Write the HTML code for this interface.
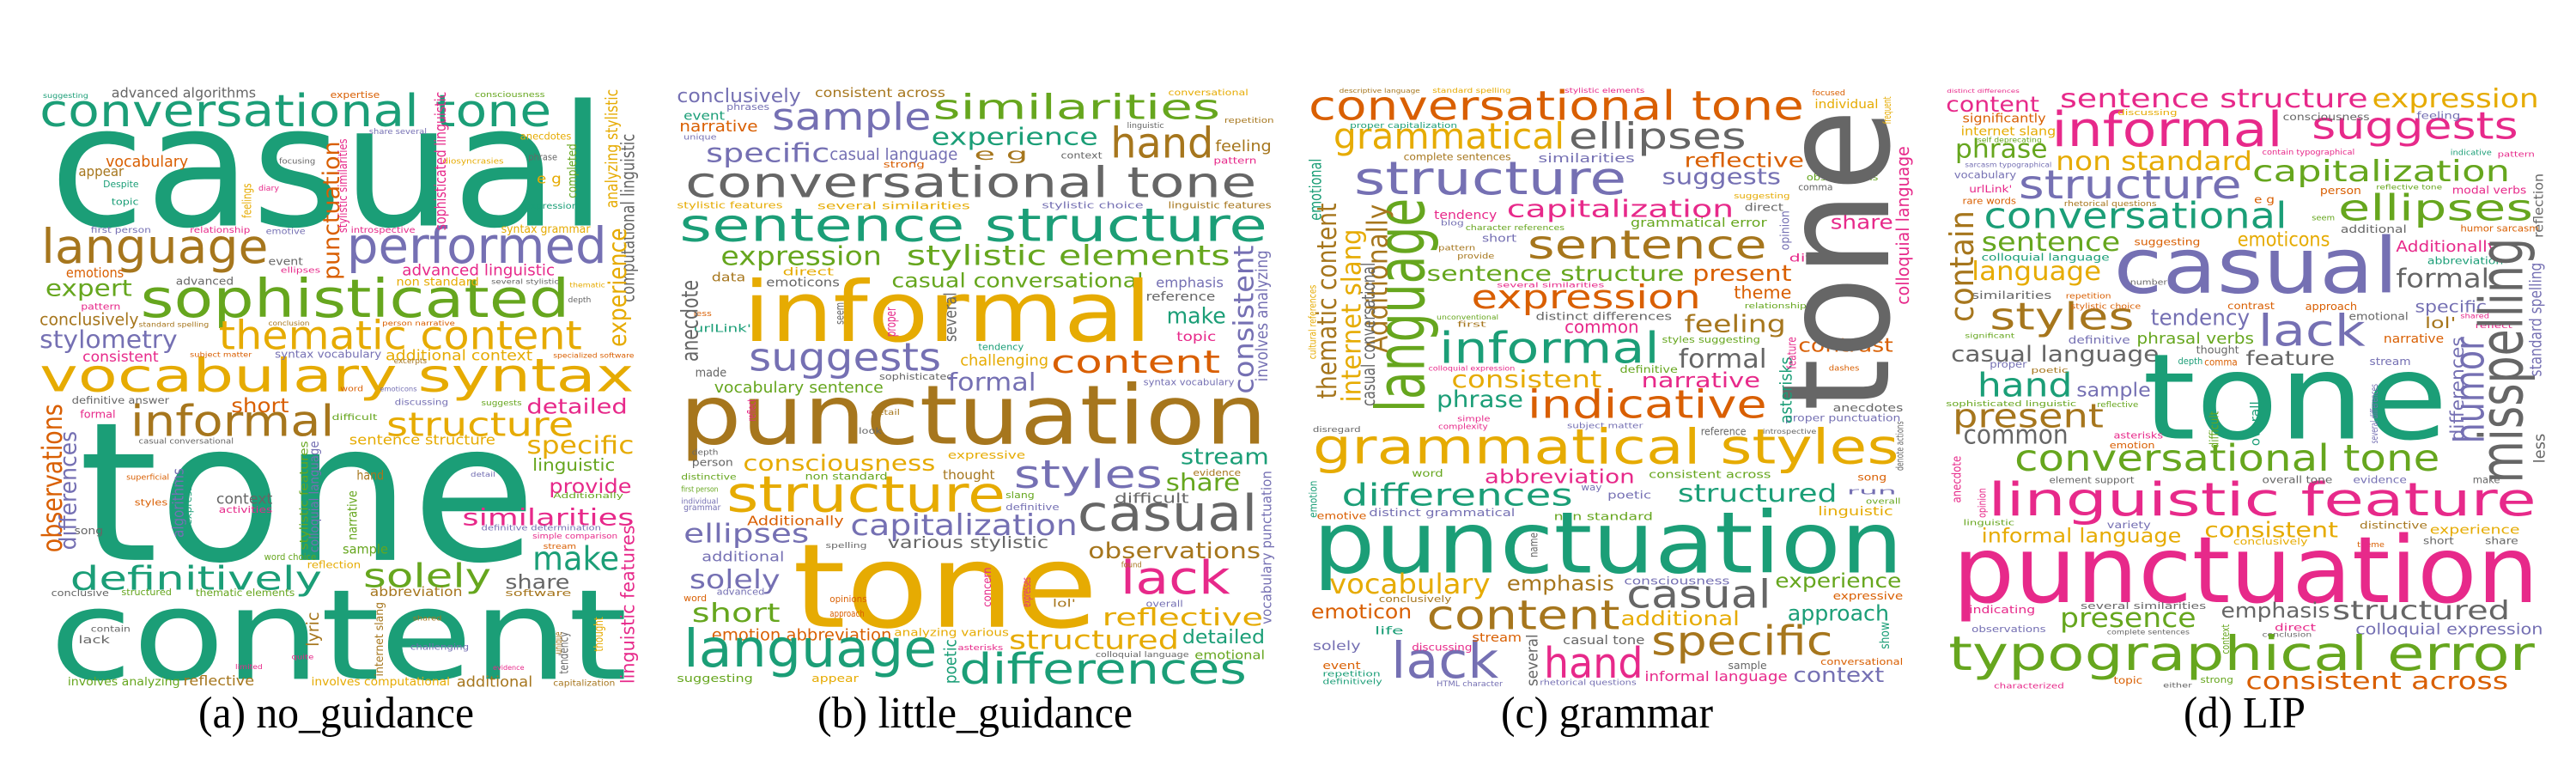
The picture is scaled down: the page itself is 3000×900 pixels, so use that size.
<!DOCTYPE html>
<html><head><meta charset="utf-8"><style>
html,body{margin:0;padding:0;background:#fff;width:3000px;height:900px;overflow:hidden}
svg{display:block}
text{font-family:"DejaVu Sans","Liberation Sans",sans-serif}
.cap{font-family:"Liberation Serif",serif;fill:#000}
.T{fill:#1b9e77}.O{fill:#d95f02}.P{fill:#7570b3}.K{fill:#e7298a}.G{fill:#66a61e}.Y{fill:#e6ab02}.B{fill:#a6761d}.R{fill:#666666}
</style></head><body>
<svg width="3000" height="900" viewBox="0 0 3000 900" xmlns="http://www.w3.org/2000/svg">
<rect width="3000" height="900" fill="#fff"/>
<g transform="scale(0.9615,0.5769)">
<!-- panel a -->
<text class="T" x="60" y="455" font-size="340" textLength="675" lengthAdjust="spacingAndGlyphs">casual</text>
<text class="T" x="48" y="255" font-size="89" textLength="620" lengthAdjust="spacingAndGlyphs">conversational tone</text>
<text class="B" x="50" y="530" font-size="96" textLength="275" lengthAdjust="spacingAndGlyphs">language</text>
<text class="P" x="420" y="530" font-size="100" textLength="315" lengthAdjust="spacingAndGlyphs">performed</text>
<text class="G" x="170" y="640" font-size="107" textLength="520" lengthAdjust="spacingAndGlyphs">sophisticated</text>
<text class="Y" x="265" y="705" font-size="80" textLength="440" lengthAdjust="spacingAndGlyphs">thematic content</text>
<text class="Y" x="48" y="790" font-size="93" textLength="720" lengthAdjust="spacingAndGlyphs">vocabulary syntax</text>
<text class="B" x="158" y="880" font-size="87" textLength="247" lengthAdjust="spacingAndGlyphs">informal</text>
<text class="Y" x="468" y="880" font-size="67" textLength="227" lengthAdjust="spacingAndGlyphs">structure</text>
<text class="T" x="95" y="1130" font-size="390" textLength="555" lengthAdjust="spacingAndGlyphs">tone</text>
<text class="T" x="85" y="1190" font-size="67" textLength="305" lengthAdjust="spacingAndGlyphs">definitively</text>
<text class="G" x="440" y="1185" font-size="67" textLength="155" lengthAdjust="spacingAndGlyphs">solely</text>
<text class="T" x="60" y="1370" font-size="253" textLength="700" lengthAdjust="spacingAndGlyphs">content</text>
<text class="T" x="645" y="1150" font-size="67" textLength="105" lengthAdjust="spacingAndGlyphs">make</text>
<text class="R" x="612" y="1188" font-size="40" textLength="78" lengthAdjust="spacingAndGlyphs">share</text>
<text class="K" x="560" y="1060" font-size="47" textLength="208" lengthAdjust="spacingAndGlyphs">similarities</text>
<text class="K" x="665" y="995" font-size="40" textLength="100" lengthAdjust="spacingAndGlyphs">provide</text>
<text class="Y" x="638" y="915" font-size="50" textLength="130" lengthAdjust="spacingAndGlyphs">specific</text>
<text class="K" x="638" y="835" font-size="42" textLength="122" lengthAdjust="spacingAndGlyphs">detailed</text>
<text class="G" x="645" y="950" font-size="34" textLength="100" lengthAdjust="spacingAndGlyphs">linguistic</text>
<text class="O" x="280" y="832" font-size="40" textLength="70" lengthAdjust="spacingAndGlyphs">short</text>
<text class="G" x="55" y="597" font-size="46" textLength="105" lengthAdjust="spacingAndGlyphs">expert</text>
<text class="P" x="48" y="702" font-size="50" textLength="167" lengthAdjust="spacingAndGlyphs">stylometry</text>
<text class="B" x="48" y="656" font-size="34" textLength="120" lengthAdjust="spacingAndGlyphs">conclusively</text>
<text class="K" x="100" y="730" font-size="29" textLength="92" lengthAdjust="spacingAndGlyphs">consistent</text>
<text class="O" x="80" y="560" font-size="28" textLength="70" lengthAdjust="spacingAndGlyphs">emotions</text>
<text class="O" x="128" y="336" font-size="30" textLength="100" lengthAdjust="spacingAndGlyphs">vocabulary</text>
<text class="B" x="95" y="355" font-size="28" textLength="55" lengthAdjust="spacingAndGlyphs">appear</text>
<text class="R" x="135" y="197" font-size="27" textLength="175" lengthAdjust="spacingAndGlyphs">advanced algorithms</text>
<text class="K" x="487" y="556" font-size="30" textLength="185" lengthAdjust="spacingAndGlyphs">advanced linguistic</text>
<text class="Y" x="480" y="576" font-size="23" textLength="100" lengthAdjust="spacingAndGlyphs">non standard</text>
<text class="Y" x="607" y="470" font-size="23" textLength="108" lengthAdjust="spacingAndGlyphs">syntax grammar</text>
<text class="Y" x="467" y="727" font-size="29" textLength="178" lengthAdjust="spacingAndGlyphs">additional context</text>
<text class="P" x="333" y="722" font-size="22" textLength="129" lengthAdjust="spacingAndGlyphs">syntax vocabulary</text>
<text class="Y" x="423" y="897" font-size="28" textLength="177" lengthAdjust="spacingAndGlyphs">sentence structure</text>
<text class="B" x="432" y="968" font-size="26" textLength="33" lengthAdjust="spacingAndGlyphs">hand</text>
<text class="R" x="262" y="1017" font-size="29" textLength="68" lengthAdjust="spacingAndGlyphs">context</text>
<text class="K" x="265" y="1035" font-size="18" textLength="65" lengthAdjust="spacingAndGlyphs">activities</text>
<text class="G" x="415" y="1117" font-size="26" textLength="55" lengthAdjust="spacingAndGlyphs">sample</text>
<text class="B" x="448" y="1203" font-size="26" textLength="112" lengthAdjust="spacingAndGlyphs">abbreviation</text>
<text class="G" x="147" y="1201" font-size="18" textLength="61" lengthAdjust="spacingAndGlyphs">structured</text>
<text class="G" x="237" y="1203" font-size="20" textLength="120" lengthAdjust="spacingAndGlyphs">thematic elements</text>
<text class="R" x="62" y="1203" font-size="19" textLength="70" lengthAdjust="spacingAndGlyphs">conclusive</text>
<text class="G" x="320" y="1130" font-size="18" textLength="63" lengthAdjust="spacingAndGlyphs">word choice</text>
<text class="Y" x="372" y="1147" font-size="20" textLength="65" lengthAdjust="spacingAndGlyphs">reflection</text>
<text class="B" x="612" y="1203" font-size="18" textLength="80" lengthAdjust="spacingAndGlyphs">software</text>
<text class="G" x="82" y="1383" font-size="23" textLength="136" lengthAdjust="spacingAndGlyphs">involves analyzing</text>
<text class="B" x="222" y="1383" font-size="27" textLength="86" lengthAdjust="spacingAndGlyphs">reflective</text>
<text class="Y" x="377" y="1383" font-size="23" textLength="168" lengthAdjust="spacingAndGlyphs">involves computational</text>
<text class="B" x="553" y="1386" font-size="29" textLength="92" lengthAdjust="spacingAndGlyphs">additional</text>
<text class="B" x="670" y="1384" font-size="17" textLength="75" lengthAdjust="spacingAndGlyphs">capitalization</text>
<text class="R" x="95" y="1298" font-size="22" textLength="38" lengthAdjust="spacingAndGlyphs">lack</text>
<text class="R" x="110" y="1275" font-size="17" textLength="48" lengthAdjust="spacingAndGlyphs">contain</text>
<text class="P" x="497" y="1311" font-size="17" textLength="71" lengthAdjust="spacingAndGlyphs">challenging</text>
<text class="K" x="353" y="1330" font-size="14" textLength="27" lengthAdjust="spacingAndGlyphs">quite</text>
<text class="K" x="97" y="843" font-size="22" textLength="43" lengthAdjust="spacingAndGlyphs">formal</text>
<text class="R" x="87" y="815" font-size="20" textLength="118" lengthAdjust="spacingAndGlyphs">definitive answer</text>
<text class="R" x="168" y="895" font-size="16" textLength="115" lengthAdjust="spacingAndGlyphs">casual conversational</text>
<text class="P" x="322" y="472" font-size="17" textLength="48" lengthAdjust="spacingAndGlyphs">emotive</text>
<text class="P" x="110" y="470" font-size="17" textLength="73" lengthAdjust="spacingAndGlyphs">first person</text>
<text class="K" x="230" y="470" font-size="17" textLength="73" lengthAdjust="spacingAndGlyphs">relationship</text>
<text class="K" x="425" y="470" font-size="17" textLength="78" lengthAdjust="spacingAndGlyphs">introspective</text>
<text class="Y" x="630" y="282" font-size="20" textLength="62" lengthAdjust="spacingAndGlyphs">anecdotes</text>
<text class="O" x="400" y="198" font-size="18" textLength="60" lengthAdjust="spacingAndGlyphs">expertise</text>
<text class="G" x="575" y="196" font-size="16" textLength="85" lengthAdjust="spacingAndGlyphs">consciousness</text>
<text class="T" x="52" y="198" font-size="14" textLength="55" lengthAdjust="spacingAndGlyphs">suggesting</text>
<text class="Y" x="650" y="370" font-size="28" textLength="30" lengthAdjust="spacingAndGlyphs">e g</text>
<text class="R" x="640" y="323" font-size="18" textLength="35" lengthAdjust="spacingAndGlyphs">phrase</text>
<text class="T" x="635" y="421" font-size="17" textLength="65" lengthAdjust="spacingAndGlyphs">expression</text>
<text class="Y" x="533" y="330" font-size="16" textLength="77" lengthAdjust="spacingAndGlyphs">idiosyncrasies</text>
<text class="P" x="447" y="270" font-size="15" textLength="70" lengthAdjust="spacingAndGlyphs">share several</text>
<text class="R" x="338" y="330" font-size="16" textLength="44" lengthAdjust="spacingAndGlyphs">focusing</text>
<text class="T" x="135" y="413" font-size="19" textLength="33" lengthAdjust="spacingAndGlyphs">topic</text>
<text class="T" x="125" y="378" font-size="18" textLength="43" lengthAdjust="spacingAndGlyphs">Despite</text>
<text class="K" x="313" y="385" font-size="15" textLength="25" lengthAdjust="spacingAndGlyphs">diary</text>
<text class="R" x="325" y="535" font-size="22" textLength="42" lengthAdjust="spacingAndGlyphs">event</text>
<text class="K" x="340" y="550" font-size="16" textLength="48" lengthAdjust="spacingAndGlyphs">ellipses</text>
<text class="R" x="213" y="575" font-size="22" textLength="70" lengthAdjust="spacingAndGlyphs">advanced</text>
<text class="K" x="98" y="625" font-size="18" textLength="48" lengthAdjust="spacingAndGlyphs">pattern</text>
<text class="B" x="168" y="660" font-size="14" textLength="85" lengthAdjust="spacingAndGlyphs">standard spelling</text>
<text class="P" x="478" y="817" font-size="17" textLength="65" lengthAdjust="spacingAndGlyphs">discussing</text>
<text class="G" x="583" y="818" font-size="15" textLength="49" lengthAdjust="spacingAndGlyphs">suggests</text>
<text class="G" x="402" y="848" font-size="17" textLength="55" lengthAdjust="spacingAndGlyphs">difficult</text>
<text class="O" x="163" y="1020" font-size="18" textLength="40" lengthAdjust="spacingAndGlyphs">styles</text>
<text class="R" x="90" y="1078" font-size="22" textLength="35" lengthAdjust="spacingAndGlyphs">song</text>
<text class="O" x="153" y="968" font-size="15" textLength="52" lengthAdjust="spacingAndGlyphs">superficial</text>
<text class="P" x="583" y="1070" font-size="15" textLength="145" lengthAdjust="spacingAndGlyphs">definitive determination</text>
<text class="K" x="645" y="1087" font-size="15" textLength="103" lengthAdjust="spacingAndGlyphs">simple comparison</text>
<text class="G" x="670" y="1005" font-size="16" textLength="85" lengthAdjust="spacingAndGlyphs">Additionally</text>
<text class="O" x="658" y="1108" font-size="15" textLength="40" lengthAdjust="spacingAndGlyphs">stream</text>
<text class="B" x="477" y="733" font-size="15" textLength="40" lengthAdjust="spacingAndGlyphs">excerpts</text>
<text class="O" x="412" y="790" font-size="15" textLength="28" lengthAdjust="spacingAndGlyphs">word</text>
<text class="P" x="460" y="790" font-size="14" textLength="45" lengthAdjust="spacingAndGlyphs">emoticons</text>
<text class="O" x="463" y="657" font-size="14" textLength="88" lengthAdjust="spacingAndGlyphs">person narrative</text>
<text class="B" x="325" y="657" font-size="13" textLength="50" lengthAdjust="spacingAndGlyphs">conclusion</text>
<text class="O" x="230" y="720" font-size="13" textLength="75" lengthAdjust="spacingAndGlyphs">subject matter</text>
<text class="O" x="670" y="722" font-size="13" textLength="98" lengthAdjust="spacingAndGlyphs">specialized software</text>
<text class="R" x="688" y="610" font-size="16" textLength="28" lengthAdjust="spacingAndGlyphs">depth</text>
<text class="Y" x="690" y="580" font-size="14" textLength="43" lengthAdjust="spacingAndGlyphs">thematic</text>
<text class="R" x="595" y="573" font-size="14" textLength="82" lengthAdjust="spacingAndGlyphs">several stylistic</text>
<text class="B" x="500" y="1252" font-size="14" textLength="35" lengthAdjust="spacingAndGlyphs">shared</text>
<text class="P" x="570" y="962" font-size="14" textLength="30" lengthAdjust="spacingAndGlyphs">detail</text>
<text class="K" x="597" y="1352" font-size="14" textLength="38" lengthAdjust="spacingAndGlyphs">evidence</text>
<text class="K" x="285" y="1350" font-size="13" textLength="33" lengthAdjust="spacingAndGlyphs">limited</text>
<text class="O" transform="translate(75,1115) rotate(-90)" font-size="33" textLength="300" lengthAdjust="spacingAndGlyphs">observations</text>
<text class="P" transform="translate(92,1110) rotate(-90)" font-size="28" textLength="240" lengthAdjust="spacingAndGlyphs">differences</text>
<text class="O" transform="translate(411,565) rotate(-90)" font-size="28" textLength="280" lengthAdjust="spacingAndGlyphs">punctuation</text>
<text class="K" transform="translate(420,470) rotate(-90)" font-size="15" textLength="190" lengthAdjust="spacingAndGlyphs">stylistic similarities</text>
<text class="K" transform="translate(540,465) rotate(-90)" font-size="18" textLength="280" lengthAdjust="spacingAndGlyphs">sophisticated linguistic</text>
<text class="Y" transform="translate(748,420) rotate(-90)" font-size="20" textLength="240" lengthAdjust="spacingAndGlyphs">analyzing stylistic</text>
<text class="R" transform="translate(768,610) rotate(-90)" font-size="22" textLength="340" lengthAdjust="spacingAndGlyphs">computational linguistic</text>
<text class="Y" transform="translate(758,700) rotate(-90)" font-size="30" textLength="240" lengthAdjust="spacingAndGlyphs">experience</text>
<text class="K" transform="translate(768,1380) rotate(-90)" font-size="22" textLength="320" lengthAdjust="spacingAndGlyphs">linguistic features</text>
<text class="B" transform="translate(386,1305) rotate(-90)" font-size="20" textLength="70" lengthAdjust="spacingAndGlyphs">lyric</text>
<text class="P" transform="translate(222,1085) rotate(-90)" font-size="18" textLength="140" lengthAdjust="spacingAndGlyphs">algorithms</text>
<text class="P" transform="translate(386,1115) rotate(-90)" font-size="16" textLength="225" lengthAdjust="spacingAndGlyphs">colloquial language</text>
<text class="G" transform="translate(373,1110) rotate(-90)" font-size="14" textLength="220" lengthAdjust="spacingAndGlyphs">stylistic features</text>
<text class="G" transform="translate(432,1090) rotate(-90)" font-size="16" textLength="100" lengthAdjust="spacingAndGlyphs">narrative</text>
<text class="Y" transform="translate(304,440) rotate(-90)" font-size="15" textLength="70" lengthAdjust="spacingAndGlyphs">feelings</text>
<text class="R" transform="translate(688,1360) rotate(-90)" font-size="15" textLength="85" lengthAdjust="spacingAndGlyphs">tendency</text>
<text class="Y" transform="translate(730,1315) rotate(-90)" font-size="15" textLength="70" lengthAdjust="spacingAndGlyphs">thought</text>
<text class="B" transform="translate(464,1365) rotate(-90)" font-size="14" textLength="150" lengthAdjust="spacingAndGlyphs">internet slang</text>
<text class="G" transform="translate(698,400) rotate(-90)" font-size="15" textLength="110" lengthAdjust="spacingAndGlyphs">completed</text>
<text class="T" transform="translate(232,1060) rotate(-90)" font-size="12" textLength="110" lengthAdjust="spacingAndGlyphs">expressive</text>
<text class="B" transform="translate(680,1320) rotate(-90)" font-size="12" textLength="45" lengthAdjust="spacingAndGlyphs">unique</text>
<!-- panel b -->
<text class="P" x="820" y="206" font-size="38" textLength="150" lengthAdjust="spacingAndGlyphs">conclusively</text>
<text class="B" x="987" y="196" font-size="26" textLength="158" lengthAdjust="spacingAndGlyphs">consistent across</text>
<text class="Y" x="1415" y="192" font-size="17" textLength="97" lengthAdjust="spacingAndGlyphs">conversational</text>
<text class="P" x="935" y="262" font-size="76" textLength="193" lengthAdjust="spacingAndGlyphs">sample</text>
<text class="G" x="1130" y="240" font-size="70" textLength="348" lengthAdjust="spacingAndGlyphs">similarities</text>
<text class="T" x="1128" y="292" font-size="48" textLength="202" lengthAdjust="spacingAndGlyphs">experience</text>
<text class="B" x="1345" y="318" font-size="85" textLength="125" lengthAdjust="spacingAndGlyphs">hand</text>
<text class="B" x="1472" y="305" font-size="31" textLength="68" lengthAdjust="spacingAndGlyphs">feeling</text>
<text class="K" x="1470" y="330" font-size="18" textLength="52" lengthAdjust="spacingAndGlyphs">pattern</text>
<text class="T" x="828" y="242" font-size="24" textLength="50" lengthAdjust="spacingAndGlyphs">event</text>
<text class="O" x="823" y="265" font-size="30" textLength="95" lengthAdjust="spacingAndGlyphs">narrative</text>
<text class="P" x="880" y="222" font-size="18" textLength="52" lengthAdjust="spacingAndGlyphs">phrases</text>
<text class="P" x="828" y="282" font-size="16" textLength="40" lengthAdjust="spacingAndGlyphs">unique</text>
<text class="P" x="855" y="327" font-size="52" textLength="150" lengthAdjust="spacingAndGlyphs">specific</text>
<text class="P" x="1005" y="322" font-size="32" textLength="155" lengthAdjust="spacingAndGlyphs">casual language</text>
<text class="B" x="1180" y="322" font-size="32" textLength="65" lengthAdjust="spacingAndGlyphs">e g</text>
<text class="R" x="1285" y="320" font-size="18" textLength="50" lengthAdjust="spacingAndGlyphs">context</text>
<text class="O" x="1070" y="338" font-size="18" textLength="50" lengthAdjust="spacingAndGlyphs">strong</text>
<text class="R" x="1365" y="258" font-size="16" textLength="45" lengthAdjust="spacingAndGlyphs">linguistic</text>
<text class="B" x="1483" y="248" font-size="15" textLength="60" lengthAdjust="spacingAndGlyphs">repetition</text>
<text class="R" x="830" y="398" font-size="85" textLength="692" lengthAdjust="spacingAndGlyphs">conversational tone</text>
<text class="Y" x="820" y="420" font-size="18" textLength="128" lengthAdjust="spacingAndGlyphs">stylistic features</text>
<text class="Y" x="990" y="422" font-size="20" textLength="185" lengthAdjust="spacingAndGlyphs">several similarities</text>
<text class="P" x="1262" y="420" font-size="19" textLength="123" lengthAdjust="spacingAndGlyphs">stylistic choice</text>
<text class="B" x="1415" y="420" font-size="18" textLength="125" lengthAdjust="spacingAndGlyphs">linguistic features</text>
<text class="T" x="823" y="486" font-size="92" textLength="712" lengthAdjust="spacingAndGlyphs">sentence structure</text>
<text class="G" x="873" y="535" font-size="52" textLength="195" lengthAdjust="spacingAndGlyphs">expression</text>
<text class="G" x="1098" y="535" font-size="56" textLength="392" lengthAdjust="spacingAndGlyphs">stylistic elements</text>
<text class="B" x="862" y="568" font-size="24" textLength="41" lengthAdjust="spacingAndGlyphs">data</text>
<text class="R" x="928" y="578" font-size="24" textLength="89" lengthAdjust="spacingAndGlyphs">emoticons</text>
<text class="Y" x="948" y="556" font-size="22" textLength="62" lengthAdjust="spacingAndGlyphs">direct</text>
<text class="G" x="1080" y="580" font-size="40" textLength="305" lengthAdjust="spacingAndGlyphs">casual conversational</text>
<text class="P" x="1400" y="580" font-size="28" textLength="82" lengthAdjust="spacingAndGlyphs">emphasis</text>
<text class="Y" x="900" y="688" font-size="168" textLength="495" lengthAdjust="spacingAndGlyphs">informal</text>
<text class="R" x="1388" y="607" font-size="24" textLength="84" lengthAdjust="spacingAndGlyphs">reference</text>
<text class="T" x="1413" y="653" font-size="44" textLength="72" lengthAdjust="spacingAndGlyphs">make</text>
<text class="K" x="1425" y="688" font-size="26" textLength="48" lengthAdjust="spacingAndGlyphs">topic</text>
<text class="T" x="840" y="670" font-size="22" textLength="70" lengthAdjust="spacingAndGlyphs">urlLink'</text>
<text class="O" x="840" y="638" font-size="16" textLength="22" lengthAdjust="spacingAndGlyphs">less</text>
<text class="P" x="907" y="748" font-size="78" textLength="233" lengthAdjust="spacingAndGlyphs">suggests</text>
<text class="Y" x="1163" y="738" font-size="30" textLength="107" lengthAdjust="spacingAndGlyphs">challenging</text>
<text class="O" x="1273" y="752" font-size="64" textLength="205" lengthAdjust="spacingAndGlyphs">content</text>
<text class="T" x="1185" y="706" font-size="18" textLength="55" lengthAdjust="spacingAndGlyphs">tendency</text>
<text class="R" x="842" y="760" font-size="24" textLength="38" lengthAdjust="spacingAndGlyphs">made</text>
<text class="G" x="865" y="792" font-size="30" textLength="205" lengthAdjust="spacingAndGlyphs">vocabulary sentence</text>
<text class="R" x="1065" y="766" font-size="19" textLength="90" lengthAdjust="spacingAndGlyphs">sophisticated</text>
<text class="P" x="1148" y="788" font-size="50" textLength="107" lengthAdjust="spacingAndGlyphs">formal</text>
<text class="P" x="1385" y="777" font-size="18" textLength="110" lengthAdjust="spacingAndGlyphs">syntax vocabulary</text>
<text class="B" x="823" y="895" font-size="165" textLength="712" lengthAdjust="spacingAndGlyphs">punctuation</text>
<text class="B" x="1055" y="837" font-size="15" textLength="35" lengthAdjust="spacingAndGlyphs">detail</text>
<text class="R" x="1040" y="875" font-size="17" textLength="28" lengthAdjust="spacingAndGlyphs">look</text>
<text class="R" x="838" y="918" font-size="16" textLength="32" lengthAdjust="spacingAndGlyphs">depth</text>
<text class="R" x="838" y="940" font-size="22" textLength="50" lengthAdjust="spacingAndGlyphs">person</text>
<text class="Y" x="900" y="950" font-size="45" textLength="233" lengthAdjust="spacingAndGlyphs">consciousness</text>
<text class="Y" x="1148" y="926" font-size="22" textLength="94" lengthAdjust="spacingAndGlyphs">expressive</text>
<text class="T" x="1430" y="937" font-size="44" textLength="107" lengthAdjust="spacingAndGlyphs">stream</text>
<text class="P" x="1228" y="985" font-size="78" textLength="180" lengthAdjust="spacingAndGlyphs">styles</text>
<text class="G" x="1412" y="990" font-size="48" textLength="90" lengthAdjust="spacingAndGlyphs">share</text>
<text class="Y" x="880" y="1032" font-size="100" textLength="338" lengthAdjust="spacingAndGlyphs">structure</text>
<text class="B" x="1142" y="967" font-size="26" textLength="63" lengthAdjust="spacingAndGlyphs">thought</text>
<text class="G" x="975" y="968" font-size="20" textLength="100" lengthAdjust="spacingAndGlyphs">non standard</text>
<text class="G" x="825" y="968" font-size="17" textLength="67" lengthAdjust="spacingAndGlyphs">distinctive</text>
<text class="B" x="1445" y="960" font-size="18" textLength="58" lengthAdjust="spacingAndGlyphs">evidence</text>
<text class="R" x="1305" y="1070" font-size="100" textLength="218" lengthAdjust="spacingAndGlyphs">casual</text>
<text class="R" x="1350" y="1015" font-size="28" textLength="90" lengthAdjust="spacingAndGlyphs">difficult</text>
<text class="P" x="1030" y="1080" font-size="58" textLength="275" lengthAdjust="spacingAndGlyphs">capitalization</text>
<text class="O" x="905" y="1060" font-size="26" textLength="117" lengthAdjust="spacingAndGlyphs">Additionally</text>
<text class="P" x="828" y="1095" font-size="52" textLength="152" lengthAdjust="spacingAndGlyphs">ellipses</text>
<text class="G" x="1218" y="1005" font-size="18" textLength="35" lengthAdjust="spacingAndGlyphs">slang</text>
<text class="P" x="1218" y="1030" font-size="18" textLength="65" lengthAdjust="spacingAndGlyphs">definitive</text>
<text class="G" x="825" y="992" font-size="15" textLength="45" lengthAdjust="spacingAndGlyphs">first person</text>
<text class="P" x="825" y="1017" font-size="15" textLength="45" lengthAdjust="spacingAndGlyphs">individual</text>
<text class="P" x="828" y="1030" font-size="17" textLength="45" lengthAdjust="spacingAndGlyphs">grammar</text>
<text class="R" x="1075" y="1106" font-size="32" textLength="195" lengthAdjust="spacingAndGlyphs">various stylistic</text>
<text class="R" x="1000" y="1106" font-size="16" textLength="50" lengthAdjust="spacingAndGlyphs">spelling</text>
<text class="B" x="1318" y="1127" font-size="45" textLength="209" lengthAdjust="spacingAndGlyphs">observations</text>
<text class="P" x="850" y="1133" font-size="28" textLength="100" lengthAdjust="spacingAndGlyphs">additional</text>
<text class="Y" x="960" y="1265" font-size="235" textLength="370" lengthAdjust="spacingAndGlyphs">tone</text>
<text class="K" x="1357" y="1198" font-size="92" textLength="133" lengthAdjust="spacingAndGlyphs">lack</text>
<text class="P" x="835" y="1187" font-size="52" textLength="110" lengthAdjust="spacingAndGlyphs">solely</text>
<text class="O" x="828" y="1213" font-size="18" textLength="28" lengthAdjust="spacingAndGlyphs">word</text>
<text class="P" x="868" y="1200" font-size="18" textLength="58" lengthAdjust="spacingAndGlyphs">advanced</text>
<text class="B" x="1358" y="1145" font-size="16" textLength="25" lengthAdjust="spacingAndGlyphs">found</text>
<text class="P" x="1388" y="1225" font-size="18" textLength="45" lengthAdjust="spacingAndGlyphs">overall</text>
<text class="B" x="1275" y="1225" font-size="22" textLength="28" lengthAdjust="spacingAndGlyphs">lol'</text>
<text class="O" x="1005" y="1215" font-size="18" textLength="45" lengthAdjust="spacingAndGlyphs">opinions</text>
<text class="O" x="1005" y="1245" font-size="18" textLength="42" lengthAdjust="spacingAndGlyphs">approach</text>
<text class="G" x="838" y="1255" font-size="52" textLength="107" lengthAdjust="spacingAndGlyphs">short</text>
<text class="Y" x="1335" y="1262" font-size="48" textLength="195" lengthAdjust="spacingAndGlyphs">reflective</text>
<text class="O" x="862" y="1292" font-size="32" textLength="218" lengthAdjust="spacingAndGlyphs">emotion abbreviation</text>
<text class="Y" x="1083" y="1284" font-size="22" textLength="139" lengthAdjust="spacingAndGlyphs">analyzing various</text>
<text class="Y" x="1222" y="1310" font-size="52" textLength="206" lengthAdjust="spacingAndGlyphs">structured</text>
<text class="T" x="1432" y="1298" font-size="38" textLength="100" lengthAdjust="spacingAndGlyphs">detailed</text>
<text class="T" x="828" y="1345" font-size="105" textLength="307" lengthAdjust="spacingAndGlyphs">language</text>
<text class="T" x="1162" y="1380" font-size="85" textLength="348" lengthAdjust="spacingAndGlyphs">differences</text>
<text class="G" x="820" y="1376" font-size="22" textLength="92" lengthAdjust="spacingAndGlyphs">suggesting</text>
<text class="Y" x="983" y="1376" font-size="22" textLength="57" lengthAdjust="spacingAndGlyphs">appear</text>
<text class="R" x="1327" y="1326" font-size="16" textLength="113" lengthAdjust="spacingAndGlyphs">colloquial language</text>
<text class="G" x="1447" y="1330" font-size="24" textLength="85" lengthAdjust="spacingAndGlyphs">emotional</text>
<text class="K" x="1160" y="1312" font-size="16" textLength="55" lengthAdjust="spacingAndGlyphs">asterisks</text>
<text class="P" transform="translate(1518,795) rotate(-90)" font-size="33" textLength="300" lengthAdjust="spacingAndGlyphs">consistent</text>
<text class="P" transform="translate(1535,770) rotate(-90)" font-size="19" textLength="265" lengthAdjust="spacingAndGlyphs">involves analyzing</text>
<text class="R" transform="translate(845,730) rotate(-90)" font-size="28" textLength="165" lengthAdjust="spacingAndGlyphs">anecdote</text>
<text class="R" transform="translate(1158,690) rotate(-90)" font-size="20" textLength="100" lengthAdjust="spacingAndGlyphs">several</text>
<text class="T" transform="translate(1158,1380) rotate(-90)" font-size="20" textLength="90" lengthAdjust="spacingAndGlyphs">poetic</text>
<text class="P" transform="translate(1540,1260) rotate(-90)" font-size="17" textLength="310" lengthAdjust="spacingAndGlyphs">vocabulary punctuation</text>
<text class="K" transform="translate(1085,680) rotate(-90)" font-size="17" textLength="60" lengthAdjust="spacingAndGlyphs">proper</text>
<text class="R" transform="translate(1022,655) rotate(-90)" font-size="14" textLength="45" lengthAdjust="spacingAndGlyphs">seem</text>
<text class="K" transform="translate(915,850) rotate(-90)" font-size="14" textLength="45" lengthAdjust="spacingAndGlyphs">reflect</text>
<text class="K" transform="translate(1200,1225) rotate(-90)" font-size="14" textLength="80" lengthAdjust="spacingAndGlyphs">concern</text>
<text class="K" transform="translate(1248,1225) rotate(-90)" font-size="14" textLength="60" lengthAdjust="spacingAndGlyphs">expresses</text>
<!-- captions -->
</g>
<g transform="translate(1500,0) scale(0.9615,0.5769)">
<!-- panel c -->
<text class="O" x="25" y="242" font-size="82" textLength="600" lengthAdjust="spacingAndGlyphs">conversational tone</text>
<text class="Y" x="638" y="218" font-size="24" textLength="77" lengthAdjust="spacingAndGlyphs">individual</text>
<text class="O" x="635" y="192" font-size="16" textLength="40" lengthAdjust="spacingAndGlyphs">focused</text>
<text class="B" x="62" y="187" font-size="12" textLength="98" lengthAdjust="spacingAndGlyphs">descriptive language</text>
<text class="Y" x="175" y="187" font-size="14" textLength="95" lengthAdjust="spacingAndGlyphs">standard spelling</text>
<text class="K" x="335" y="187" font-size="13" textLength="97" lengthAdjust="spacingAndGlyphs">stylistic elements</text>
<text class="Y" x="55" y="300" font-size="72" textLength="280" lengthAdjust="spacingAndGlyphs">grammatical</text>
<text class="R" x="340" y="300" font-size="72" textLength="215" lengthAdjust="spacingAndGlyphs">ellipses</text>
<text class="T" x="75" y="258" font-size="15" textLength="130" lengthAdjust="spacingAndGlyphs">proper capitalization</text>
<text class="B" x="140" y="323" font-size="20" textLength="130" lengthAdjust="spacingAndGlyphs">complete sentences</text>
<text class="P" x="303" y="328" font-size="24" textLength="117" lengthAdjust="spacingAndGlyphs">similarities</text>
<text class="O" x="480" y="337" font-size="40" textLength="145" lengthAdjust="spacingAndGlyphs">reflective</text>
<text class="P" x="80" y="392" font-size="92" textLength="330" lengthAdjust="spacingAndGlyphs">structure</text>
<text class="P" x="453" y="372" font-size="45" textLength="144" lengthAdjust="spacingAndGlyphs">suggests</text>
<text class="G" x="628" y="364" font-size="18" textLength="87" lengthAdjust="spacingAndGlyphs">observations</text>
<text class="R" x="618" y="384" font-size="19" textLength="42" lengthAdjust="spacingAndGlyphs">comma</text>
<text class="Y" x="540" y="400" font-size="16" textLength="68" lengthAdjust="spacingAndGlyphs">suggesting</text>
<text class="K" x="265" y="438" font-size="48" textLength="275" lengthAdjust="spacingAndGlyphs">capitalization</text>
<text class="K" x="177" y="442" font-size="25" textLength="76" lengthAdjust="spacingAndGlyphs">tendency</text>
<text class="R" x="553" y="426" font-size="22" textLength="47" lengthAdjust="spacingAndGlyphs">direct</text>
<text class="G" x="415" y="458" font-size="24" textLength="165" lengthAdjust="spacingAndGlyphs">grammatical error</text>
<text class="K" x="657" y="462" font-size="40" textLength="76" lengthAdjust="spacingAndGlyphs">share</text>
<text class="B" x="290" y="522" font-size="80" textLength="290" lengthAdjust="spacingAndGlyphs">sentence</text>
<text class="P" x="235" y="488" font-size="22" textLength="42" lengthAdjust="spacingAndGlyphs">short</text>
<text class="G" x="215" y="465" font-size="15" textLength="120" lengthAdjust="spacingAndGlyphs">character references</text>
<text class="P" x="185" y="455" font-size="15" textLength="28" lengthAdjust="spacingAndGlyphs">blog</text>
<text class="B" x="182" y="505" font-size="16" textLength="45" lengthAdjust="spacingAndGlyphs">pattern</text>
<text class="B" x="205" y="522" font-size="16" textLength="45" lengthAdjust="spacingAndGlyphs">provide</text>
<text class="K" x="607" y="528" font-size="22" textLength="80" lengthAdjust="spacingAndGlyphs">difficult</text>
<text class="G" x="168" y="567" font-size="43" textLength="312" lengthAdjust="spacingAndGlyphs">sentence structure</text>
<text class="O" x="490" y="567" font-size="45" textLength="120" lengthAdjust="spacingAndGlyphs">present</text>
<text class="K" x="253" y="580" font-size="14" textLength="130" lengthAdjust="spacingAndGlyphs">several similarities</text>
<text class="O" x="540" y="602" font-size="36" textLength="70" lengthAdjust="spacingAndGlyphs">theme</text>
<text class="O" x="222" y="622" font-size="67" textLength="278" lengthAdjust="spacingAndGlyphs">expression</text>
<text class="G" x="553" y="622" font-size="15" textLength="75" lengthAdjust="spacingAndGlyphs">relationship</text>
<text class="R" x="300" y="646" font-size="22" textLength="165" lengthAdjust="spacingAndGlyphs">distinct differences</text>
<text class="B" x="480" y="670" font-size="48" textLength="123" lengthAdjust="spacingAndGlyphs">feeling</text>
<text class="K" x="335" y="672" font-size="36" textLength="90" lengthAdjust="spacingAndGlyphs">common</text>
<text class="G" x="180" y="645" font-size="14" textLength="75" lengthAdjust="spacingAndGlyphs">unconventional</text>
<text class="B" x="205" y="660" font-size="16" textLength="35" lengthAdjust="spacingAndGlyphs">first</text>
<text class="T" x="183" y="732" font-size="86" textLength="267" lengthAdjust="spacingAndGlyphs">informal</text>
<text class="G" x="453" y="692" font-size="18" textLength="119" lengthAdjust="spacingAndGlyphs">styles suggesting</text>
<text class="O" x="618" y="710" font-size="38" textLength="115" lengthAdjust="spacingAndGlyphs">contrast</text>
<text class="R" x="473" y="742" font-size="52" textLength="107" lengthAdjust="spacingAndGlyphs">formal</text>
<text class="G" x="402" y="752" font-size="20" textLength="70" lengthAdjust="spacingAndGlyphs">definitive</text>
<text class="O" x="655" y="748" font-size="16" textLength="37" lengthAdjust="spacingAndGlyphs">dashes</text>
<text class="K" x="170" y="748" font-size="14" textLength="105" lengthAdjust="spacingAndGlyphs">colloquial expression</text>
<text class="Y" x="198" y="782" font-size="48" textLength="182" lengthAdjust="spacingAndGlyphs">consistent</text>
<text class="K" x="428" y="782" font-size="42" textLength="144" lengthAdjust="spacingAndGlyphs">narrative</text>
<text class="T" x="180" y="822" font-size="46" textLength="105" lengthAdjust="spacingAndGlyphs">phrase</text>
<text class="O" x="290" y="843" font-size="78" textLength="290" lengthAdjust="spacingAndGlyphs">indicative</text>
<text class="R" x="660" y="830" font-size="22" textLength="85" lengthAdjust="spacingAndGlyphs">anecdotes</text>
<text class="P" x="602" y="850" font-size="20" textLength="140" lengthAdjust="spacingAndGlyphs">proper punctuation</text>
<text class="K" x="205" y="850" font-size="16" textLength="40" lengthAdjust="spacingAndGlyphs">simple</text>
<text class="K" x="182" y="866" font-size="15" textLength="60" lengthAdjust="spacingAndGlyphs">complexity</text>
<text class="P" x="338" y="864" font-size="15" textLength="92" lengthAdjust="spacingAndGlyphs">subject matter</text>
<text class="R" x="30" y="872" font-size="16" textLength="58" lengthAdjust="spacingAndGlyphs">disregard</text>
<text class="R" x="500" y="878" font-size="22" textLength="55" lengthAdjust="spacingAndGlyphs">reference</text>
<text class="R" x="575" y="875" font-size="14" textLength="65" lengthAdjust="spacingAndGlyphs">introspective</text>
<text class="Y" x="30" y="935" font-size="97" textLength="710" lengthAdjust="spacingAndGlyphs">grammatical styles</text>
<text class="K" x="238" y="975" font-size="38" textLength="182" lengthAdjust="spacingAndGlyphs">abbreviation</text>
<text class="G" x="437" y="965" font-size="22" textLength="148" lengthAdjust="spacingAndGlyphs">consistent across</text>
<text class="O" x="690" y="970" font-size="20" textLength="35" lengthAdjust="spacingAndGlyphs">song</text>
<text class="G" x="150" y="962" font-size="20" textLength="38" lengthAdjust="spacingAndGlyphs">word</text>
<text class="T" x="65" y="1020" font-size="62" textLength="280" lengthAdjust="spacingAndGlyphs">differences</text>
<text class="T" x="472" y="1012" font-size="50" textLength="193" lengthAdjust="spacingAndGlyphs">structured</text>
<text class="P" x="387" y="1006" font-size="22" textLength="53" lengthAdjust="spacingAndGlyphs">poetic</text>
<text class="P" x="355" y="990" font-size="18" textLength="25" lengthAdjust="spacingAndGlyphs">way</text>
<text class="P" x="677" y="998" font-size="18" textLength="60" lengthAdjust="spacingAndGlyphs">run</text>
<text class="G" x="700" y="1017" font-size="15" textLength="42" lengthAdjust="spacingAndGlyphs">overall</text>
<text class="Y" x="642" y="1040" font-size="24" textLength="91" lengthAdjust="spacingAndGlyphs">linguistic</text>
<text class="O" x="35" y="1048" font-size="20" textLength="60" lengthAdjust="spacingAndGlyphs">emotive</text>
<text class="P" x="98" y="1042" font-size="22" textLength="177" lengthAdjust="spacingAndGlyphs">distinct grammatical</text>
<text class="G" x="322" y="1050" font-size="22" textLength="120" lengthAdjust="spacingAndGlyphs">non standard</text>
<text class="T" x="30" y="1155" font-size="172" textLength="715" lengthAdjust="spacingAndGlyphs">punctuation</text>
<text class="Y" x="50" y="1198" font-size="56" textLength="195" lengthAdjust="spacingAndGlyphs">vocabulary</text>
<text class="B" x="265" y="1192" font-size="42" textLength="130" lengthAdjust="spacingAndGlyphs">emphasis</text>
<text class="P" x="407" y="1180" font-size="22" textLength="128" lengthAdjust="spacingAndGlyphs">consciousness</text>
<text class="R" x="410" y="1226" font-size="78" textLength="175" lengthAdjust="spacingAndGlyphs">casual</text>
<text class="G" x="590" y="1186" font-size="40" textLength="153" lengthAdjust="spacingAndGlyphs">experience</text>
<text class="O" x="660" y="1210" font-size="22" textLength="85" lengthAdjust="spacingAndGlyphs">expressive</text>
<text class="B" x="110" y="1215" font-size="18" textLength="88" lengthAdjust="spacingAndGlyphs">conclusively</text>
<text class="O" x="28" y="1248" font-size="40" textLength="122" lengthAdjust="spacingAndGlyphs">emoticon</text>
<text class="B" x="168" y="1270" font-size="82" textLength="234" lengthAdjust="spacingAndGlyphs">content</text>
<text class="Y" x="403" y="1262" font-size="40" textLength="144" lengthAdjust="spacingAndGlyphs">additional</text>
<text class="T" x="605" y="1252" font-size="43" textLength="123" lengthAdjust="spacingAndGlyphs">approach</text>
<text class="B" x="440" y="1322" font-size="82" textLength="220" lengthAdjust="spacingAndGlyphs">specific</text>
<text class="P" x="125" y="1368" font-size="100" textLength="130" lengthAdjust="spacingAndGlyphs">lack</text>
<text class="K" x="310" y="1368" font-size="85" textLength="120" lengthAdjust="spacingAndGlyphs">hand</text>
<text class="O" x="223" y="1295" font-size="24" textLength="60" lengthAdjust="spacingAndGlyphs">stream</text>
<text class="T" x="105" y="1280" font-size="22" textLength="35" lengthAdjust="spacingAndGlyphs">life</text>
<text class="P" x="30" y="1312" font-size="26" textLength="58" lengthAdjust="spacingAndGlyphs">solely</text>
<text class="K" x="150" y="1313" font-size="20" textLength="73" lengthAdjust="spacingAndGlyphs">discussing</text>
<text class="R" x="333" y="1300" font-size="24" textLength="99" lengthAdjust="spacingAndGlyphs">casual tone</text>
<text class="K" x="432" y="1375" font-size="28" textLength="173" lengthAdjust="spacingAndGlyphs">informal language</text>
<text class="P" x="612" y="1376" font-size="42" textLength="110" lengthAdjust="spacingAndGlyphs">context</text>
<text class="R" x="533" y="1350" font-size="22" textLength="47" lengthAdjust="spacingAndGlyphs">sample</text>
<text class="O" x="645" y="1342" font-size="18" textLength="100" lengthAdjust="spacingAndGlyphs">conversational</text>
<text class="O" x="42" y="1350" font-size="22" textLength="46" lengthAdjust="spacingAndGlyphs">event</text>
<text class="T" x="42" y="1365" font-size="16" textLength="70" lengthAdjust="spacingAndGlyphs">repetition</text>
<text class="T" x="42" y="1381" font-size="16" textLength="72" lengthAdjust="spacingAndGlyphs">definitively</text>
<text class="P" x="180" y="1385" font-size="15" textLength="80" lengthAdjust="spacingAndGlyphs">HTML character</text>
<text class="P" x="305" y="1382" font-size="16" textLength="117" lengthAdjust="spacingAndGlyphs">rhetorical questions</text>
<text class="R" transform="translate(727,830) rotate(-90)" font-size="182" textLength="610" lengthAdjust="spacingAndGlyphs">tone</text>
<text class="G" transform="translate(165,832) rotate(-90)" font-size="82" textLength="432" lengthAdjust="spacingAndGlyphs">language</text>
<text class="B" transform="translate(120,712) rotate(-90)" font-size="34" textLength="300" lengthAdjust="spacingAndGlyphs">Additionally</text>
<text class="B" transform="translate(58,805) rotate(-90)" font-size="32" textLength="395" lengthAdjust="spacingAndGlyphs">thematic content</text>
<text class="Y" transform="translate(88,812) rotate(-90)" font-size="32" textLength="350" lengthAdjust="spacingAndGlyphs">internet slang</text>
<text class="R" transform="translate(105,820) rotate(-90)" font-size="22" textLength="290" lengthAdjust="spacingAndGlyphs">casual conversational</text>
<text class="T" transform="translate(40,445) rotate(-90)" font-size="19" textLength="125" lengthAdjust="spacingAndGlyphs">emotional</text>
<text class="Y" transform="translate(34,725) rotate(-90)" font-size="12" textLength="150" lengthAdjust="spacingAndGlyphs">cultural references</text>
<text class="K" transform="translate(752,615) rotate(-90)" font-size="21" textLength="320" lengthAdjust="spacingAndGlyphs">colloquial language</text>
<text class="P" transform="translate(607,505) rotate(-90)" font-size="15" textLength="80" lengthAdjust="spacingAndGlyphs">opinion</text>
<text class="T" transform="translate(610,855) rotate(-90)" font-size="19" textLength="135" lengthAdjust="spacingAndGlyphs">asterisks</text>
<text class="K" transform="translate(615,745) rotate(-90)" font-size="15" textLength="65" lengthAdjust="spacingAndGlyphs">feature</text>
<text class="R" transform="translate(302,1385) rotate(-90)" font-size="18" textLength="105" lengthAdjust="spacingAndGlyphs">several</text>
<text class="R" transform="translate(302,1125) rotate(-90)" font-size="14" textLength="50" lengthAdjust="spacingAndGlyphs">name</text>
<text class="T" transform="translate(35,1045) rotate(-90)" font-size="13" textLength="75" lengthAdjust="spacingAndGlyphs">emotion</text>
<text class="T" transform="translate(728,1310) rotate(-90)" font-size="16" textLength="55" lengthAdjust="spacingAndGlyphs">show</text>
<text class="Y" transform="translate(730,250) rotate(-90)" font-size="13" textLength="55" lengthAdjust="spacingAndGlyphs">frequent</text>
<text class="R" transform="translate(745,950) rotate(-90)" font-size="12" textLength="100" lengthAdjust="spacingAndGlyphs">denote actions</text>
<!-- panel d -->
<text class="K" x="797" y="225" font-size="43" textLength="113" lengthAdjust="spacingAndGlyphs">content</text>
<text class="K" x="798" y="187" font-size="11" textLength="88" lengthAdjust="spacingAndGlyphs">distinct differences</text>
<text class="K" x="935" y="217" font-size="53" textLength="373" lengthAdjust="spacingAndGlyphs">sentence structure</text>
<text class="Y" x="1313" y="217" font-size="53" textLength="202" lengthAdjust="spacingAndGlyphs">expression</text>
<text class="O" x="817" y="247" font-size="24" textLength="101" lengthAdjust="spacingAndGlyphs">significantly</text>
<text class="Y" x="815" y="273" font-size="24" textLength="115" lengthAdjust="spacingAndGlyphs">internet slang</text>
<text class="G" x="808" y="318" font-size="53" textLength="112" lengthAdjust="spacingAndGlyphs">phrase</text>
<text class="K" x="925" y="295" font-size="97" textLength="280" lengthAdjust="spacingAndGlyphs">informal</text>
<text class="K" x="1240" y="280" font-size="76" textLength="250" lengthAdjust="spacingAndGlyphs">suggests</text>
<text class="R" x="1205" y="243" font-size="20" textLength="105" lengthAdjust="spacingAndGlyphs">consciousness</text>
<text class="P" x="1367" y="240" font-size="20" textLength="53" lengthAdjust="spacingAndGlyphs">feeling</text>
<text class="Y" x="1005" y="232" font-size="16" textLength="72" lengthAdjust="spacingAndGlyphs">discussing</text>
<text class="Y" x="930" y="343" font-size="52" textLength="238" lengthAdjust="spacingAndGlyphs">non standard</text>
<text class="G" x="1168" y="366" font-size="58" textLength="312" lengthAdjust="spacingAndGlyphs">capitalization</text>
<text class="K" x="1180" y="312" font-size="15" textLength="112" lengthAdjust="spacingAndGlyphs">contain typographical</text>
<text class="T" x="1408" y="313" font-size="15" textLength="50" lengthAdjust="spacingAndGlyphs">indicative</text>
<text class="K" x="1465" y="316" font-size="16" textLength="45" lengthAdjust="spacingAndGlyphs">pattern</text>
<text class="P" x="885" y="400" font-size="80" textLength="270" lengthAdjust="spacingAndGlyphs">structure</text>
<text class="P" x="807" y="360" font-size="20" textLength="75" lengthAdjust="spacingAndGlyphs">vocabulary</text>
<text class="P" x="820" y="337" font-size="14" textLength="105" lengthAdjust="spacingAndGlyphs">sarcasm typographical</text>
<text class="G" x="835" y="287" font-size="14" textLength="78" lengthAdjust="spacingAndGlyphs">self deprecating</text>
<text class="K" x="825" y="388" font-size="20" textLength="52" lengthAdjust="spacingAndGlyphs">urlLink'</text>
<text class="O" x="817" y="412" font-size="18" textLength="65" lengthAdjust="spacingAndGlyphs">rare words</text>
<text class="B" x="940" y="416" font-size="15" textLength="112" lengthAdjust="spacingAndGlyphs">rhetorical questions</text>
<text class="T" x="843" y="460" font-size="72" textLength="367" lengthAdjust="spacingAndGlyphs">conversational</text>
<text class="G" x="1272" y="445" font-size="72" textLength="236" lengthAdjust="spacingAndGlyphs">ellipses</text>
<text class="O" x="1250" y="392" font-size="22" textLength="50" lengthAdjust="spacingAndGlyphs">person</text>
<text class="G" x="1318" y="382" font-size="14" textLength="80" lengthAdjust="spacingAndGlyphs">reflective tone</text>
<text class="K" x="1410" y="391" font-size="22" textLength="90" lengthAdjust="spacingAndGlyphs">modal verbs</text>
<text class="O" x="1170" y="410" font-size="22" textLength="25" lengthAdjust="spacingAndGlyphs">e g</text>
<text class="R" x="1275" y="470" font-size="22" textLength="80" lengthAdjust="spacingAndGlyphs">additional</text>
<text class="O" x="1420" y="467" font-size="18" textLength="95" lengthAdjust="spacingAndGlyphs">humor sarcasm</text>
<text class="G" x="1240" y="445" font-size="15" textLength="28" lengthAdjust="spacingAndGlyphs">seem</text>
<text class="G" x="840" y="506" font-size="52" textLength="168" lengthAdjust="spacingAndGlyphs">sentence</text>
<text class="O" x="1025" y="495" font-size="20" textLength="80" lengthAdjust="spacingAndGlyphs">suggesting</text>
<text class="Y" x="1150" y="497" font-size="40" textLength="112" lengthAdjust="spacingAndGlyphs">emoticons</text>
<text class="K" x="1342" y="508" font-size="30" textLength="123" lengthAdjust="spacingAndGlyphs">Additionally</text>
<text class="T" x="1380" y="533" font-size="20" textLength="92" lengthAdjust="spacingAndGlyphs">abbreviation</text>
<text class="T" x="840" y="526" font-size="20" textLength="155" lengthAdjust="spacingAndGlyphs">colloquial language</text>
<text class="P" x="1000" y="590" font-size="155" textLength="345" lengthAdjust="spacingAndGlyphs">casual</text>
<text class="Y" x="828" y="565" font-size="52" textLength="157" lengthAdjust="spacingAndGlyphs">language</text>
<text class="R" x="1342" y="580" font-size="52" textLength="113" lengthAdjust="spacingAndGlyphs">formal</text>
<text class="R" x="828" y="603" font-size="22" textLength="97" lengthAdjust="spacingAndGlyphs">similarities</text>
<text class="O" x="942" y="602" font-size="16" textLength="55" lengthAdjust="spacingAndGlyphs">repetition</text>
<text class="R" x="1020" y="575" font-size="15" textLength="45" lengthAdjust="spacingAndGlyphs">number</text>
<text class="B" x="850" y="665" font-size="76" textLength="175" lengthAdjust="spacingAndGlyphs">styles</text>
<text class="O" x="948" y="623" font-size="16" textLength="85" lengthAdjust="spacingAndGlyphs">stylistic choice</text>
<text class="P" x="1045" y="656" font-size="44" textLength="120" lengthAdjust="spacingAndGlyphs">tendency</text>
<text class="P" x="1175" y="698" font-size="88" textLength="130" lengthAdjust="spacingAndGlyphs">lack</text>
<text class="O" x="1138" y="624" font-size="20" textLength="57" lengthAdjust="spacingAndGlyphs">contrast</text>
<text class="O" x="1232" y="626" font-size="22" textLength="63" lengthAdjust="spacingAndGlyphs">approach</text>
<text class="P" x="1365" y="630" font-size="32" textLength="87" lengthAdjust="spacingAndGlyphs">specific</text>
<text class="R" x="1285" y="646" font-size="22" textLength="72" lengthAdjust="spacingAndGlyphs">emotional</text>
<text class="B" x="1377" y="662" font-size="30" textLength="38" lengthAdjust="spacingAndGlyphs">lol'</text>
<text class="K" x="1420" y="642" font-size="14" textLength="35" lengthAdjust="spacingAndGlyphs">shared</text>
<text class="K" x="1438" y="662" font-size="16" textLength="45" lengthAdjust="spacingAndGlyphs">reflect</text>
<text class="O" x="1327" y="692" font-size="24" textLength="73" lengthAdjust="spacingAndGlyphs">narrative</text>
<text class="P" x="945" y="693" font-size="22" textLength="75" lengthAdjust="spacingAndGlyphs">definitive</text>
<text class="G" x="1028" y="693" font-size="30" textLength="142" lengthAdjust="spacingAndGlyphs">phrasal verbs</text>
<text class="G" x="820" y="682" font-size="14" textLength="60" lengthAdjust="spacingAndGlyphs">significant</text>
<text class="R" x="803" y="730" font-size="44" textLength="252" lengthAdjust="spacingAndGlyphs">casual language</text>
<text class="R" x="1100" y="713" font-size="22" textLength="52" lengthAdjust="spacingAndGlyphs">thought</text>
<text class="R" x="1160" y="737" font-size="40" textLength="108" lengthAdjust="spacingAndGlyphs">feature</text>
<text class="P" x="1310" y="737" font-size="22" textLength="50" lengthAdjust="spacingAndGlyphs">stream</text>
<text class="O" x="1110" y="738" font-size="20" textLength="40" lengthAdjust="spacingAndGlyphs">comma</text>
<text class="T" x="1078" y="735" font-size="18" textLength="30" lengthAdjust="spacingAndGlyphs">depth</text>
<text class="P" x="850" y="742" font-size="20" textLength="45" lengthAdjust="spacingAndGlyphs">proper</text>
<text class="T" x="1035" y="885" font-size="240" textLength="370" lengthAdjust="spacingAndGlyphs">tone</text>
<text class="T" x="835" y="800" font-size="66" textLength="115" lengthAdjust="spacingAndGlyphs">hand</text>
<text class="P" x="955" y="800" font-size="38" textLength="90" lengthAdjust="spacingAndGlyphs">sample</text>
<text class="B" x="900" y="752" font-size="16" textLength="45" lengthAdjust="spacingAndGlyphs">poetic</text>
<text class="G" x="797" y="820" font-size="16" textLength="158" lengthAdjust="spacingAndGlyphs">sophisticated linguistic</text>
<text class="G" x="980" y="822" font-size="16" textLength="50" lengthAdjust="spacingAndGlyphs">reflective</text>
<text class="B" x="805" y="862" font-size="66" textLength="183" lengthAdjust="spacingAndGlyphs">present</text>
<text class="K" x="1000" y="885" font-size="18" textLength="60" lengthAdjust="spacingAndGlyphs">asterisks</text>
<text class="O" x="995" y="905" font-size="18" textLength="55" lengthAdjust="spacingAndGlyphs">emotion</text>
<text class="R" x="818" y="895" font-size="52" textLength="127" lengthAdjust="spacingAndGlyphs">common</text>
<text class="G" x="880" y="950" font-size="74" textLength="515" lengthAdjust="spacingAndGlyphs">conversational tone</text>
<text class="K" x="848" y="1040" font-size="92" textLength="664" lengthAdjust="spacingAndGlyphs">linguistic feature</text>
<text class="R" x="922" y="975" font-size="18" textLength="103" lengthAdjust="spacingAndGlyphs">element support</text>
<text class="R" x="1180" y="975" font-size="20" textLength="85" lengthAdjust="spacingAndGlyphs">overall tone</text>
<text class="P" x="1290" y="975" font-size="20" textLength="65" lengthAdjust="spacingAndGlyphs">evidence</text>
<text class="R" x="1435" y="975" font-size="20" textLength="33" lengthAdjust="spacingAndGlyphs">make</text>
<text class="Y" x="840" y="1095" font-size="40" textLength="242" lengthAdjust="spacingAndGlyphs">informal language</text>
<text class="Y" x="1110" y="1084" font-size="43" textLength="162" lengthAdjust="spacingAndGlyphs">consistent</text>
<text class="Y" x="1383" y="1077" font-size="25" textLength="109" lengthAdjust="spacingAndGlyphs">experience</text>
<text class="B" x="1298" y="1067" font-size="20" textLength="82" lengthAdjust="spacingAndGlyphs">distinctive</text>
<text class="R" x="1375" y="1098" font-size="20" textLength="37" lengthAdjust="spacingAndGlyphs">short</text>
<text class="R" x="1450" y="1098" font-size="20" textLength="40" lengthAdjust="spacingAndGlyphs">share</text>
<text class="Y" x="1145" y="1099" font-size="18" textLength="90" lengthAdjust="spacingAndGlyphs">conclusively</text>
<text class="O" x="1295" y="1104" font-size="16" textLength="33" lengthAdjust="spacingAndGlyphs">theme</text>
<text class="G" x="818" y="1060" font-size="16" textLength="62" lengthAdjust="spacingAndGlyphs">linguistic</text>
<text class="P" x="992" y="1066" font-size="20" textLength="53" lengthAdjust="spacingAndGlyphs">variety</text>
<text class="K" x="805" y="1215" font-size="185" textLength="710" lengthAdjust="spacingAndGlyphs">punctuation</text>
<text class="K" x="825" y="1238" font-size="22" textLength="80" lengthAdjust="spacingAndGlyphs">indicating</text>
<text class="R" x="960" y="1229" font-size="18" textLength="152" lengthAdjust="spacingAndGlyphs">several similarities</text>
<text class="G" x="935" y="1265" font-size="54" textLength="165" lengthAdjust="spacingAndGlyphs">presence</text>
<text class="R" x="1130" y="1246" font-size="42" textLength="132" lengthAdjust="spacingAndGlyphs">emphasis</text>
<text class="R" x="1265" y="1250" font-size="52" textLength="215" lengthAdjust="spacingAndGlyphs">structured</text>
<text class="P" x="828" y="1276" font-size="18" textLength="90" lengthAdjust="spacingAndGlyphs">observations</text>
<text class="K" x="1195" y="1273" font-size="20" textLength="50" lengthAdjust="spacingAndGlyphs">direct</text>
<text class="R" x="1180" y="1285" font-size="14" textLength="60" lengthAdjust="spacingAndGlyphs">conclusion</text>
<text class="R" x="992" y="1280" font-size="14" textLength="100" lengthAdjust="spacingAndGlyphs">complete sentences</text>
<text class="P" x="1293" y="1280" font-size="30" textLength="227" lengthAdjust="spacingAndGlyphs">colloquial expression</text>
<text class="G" x="800" y="1352" font-size="96" textLength="710" lengthAdjust="spacingAndGlyphs">typographical error</text>
<text class="O" x="1000" y="1380" font-size="20" textLength="35" lengthAdjust="spacingAndGlyphs">topic</text>
<text class="G" x="1105" y="1378" font-size="18" textLength="40" lengthAdjust="spacingAndGlyphs">strong</text>
<text class="R" x="1060" y="1388" font-size="14" textLength="35" lengthAdjust="spacingAndGlyphs">either</text>
<text class="K" x="855" y="1389" font-size="15" textLength="85" lengthAdjust="spacingAndGlyphs">characterized</text>
<text class="O" x="1160" y="1390" font-size="48" textLength="318" lengthAdjust="spacingAndGlyphs">consistent across</text>
<text class="B" transform="translate(830,650) rotate(-90)" font-size="40" textLength="225" lengthAdjust="spacingAndGlyphs">contain</text>
<text class="R" transform="translate(1495,975) rotate(-90)" font-size="72" textLength="495" lengthAdjust="spacingAndGlyphs">misspelling</text>
<text class="P" transform="translate(1448,895) rotate(-90)" font-size="50" textLength="215" lengthAdjust="spacingAndGlyphs">humor</text>
<text class="P" transform="translate(1424,890) rotate(-90)" font-size="22" textLength="210" lengthAdjust="spacingAndGlyphs">differences</text>
<text class="P" transform="translate(1518,760) rotate(-90)" font-size="19" textLength="230" lengthAdjust="spacingAndGlyphs">standard spelling</text>
<text class="R" transform="translate(1520,480) rotate(-90)" font-size="16" textLength="130" lengthAdjust="spacingAndGlyphs">reflection</text>
<text class="K" transform="translate(815,1015) rotate(-90)" font-size="15" textLength="95" lengthAdjust="spacingAndGlyphs">anecdote</text>
<text class="T" transform="translate(1177,900) rotate(-90)" font-size="16" textLength="90" lengthAdjust="spacingAndGlyphs">overall</text>
<text class="G" transform="translate(1127,905) rotate(-90)" font-size="15" textLength="75" lengthAdjust="spacingAndGlyphs">difficult</text>
<text class="K" transform="translate(845,1045) rotate(-90)" font-size="13" textLength="60" lengthAdjust="spacingAndGlyphs">opinion</text>
<text class="R" transform="translate(1522,935) rotate(-90)" font-size="18" textLength="60" lengthAdjust="spacingAndGlyphs">less</text>
<text class="G" transform="translate(1140,1320) rotate(-90)" font-size="13" textLength="60" lengthAdjust="spacingAndGlyphs">context</text>
<text class="P" transform="translate(1320,895) rotate(-90)" font-size="12" textLength="120" lengthAdjust="spacingAndGlyphs">several differences</text>
</g>
<text class="cap" x="231" y="847" font-size="52" textLength="321" lengthAdjust="spacingAndGlyphs">(a) no_guidance</text>
<text class="cap" x="952" y="847" font-size="52" textLength="367" lengthAdjust="spacingAndGlyphs">(b) little_guidance</text>
<text class="cap" x="1748" y="847" font-size="52" textLength="247" lengthAdjust="spacingAndGlyphs">(c) grammar</text>
<text class="cap" x="2543" y="847" font-size="52" textLength="142" lengthAdjust="spacingAndGlyphs">(d) LIP</text>
</svg>
</body></html>
